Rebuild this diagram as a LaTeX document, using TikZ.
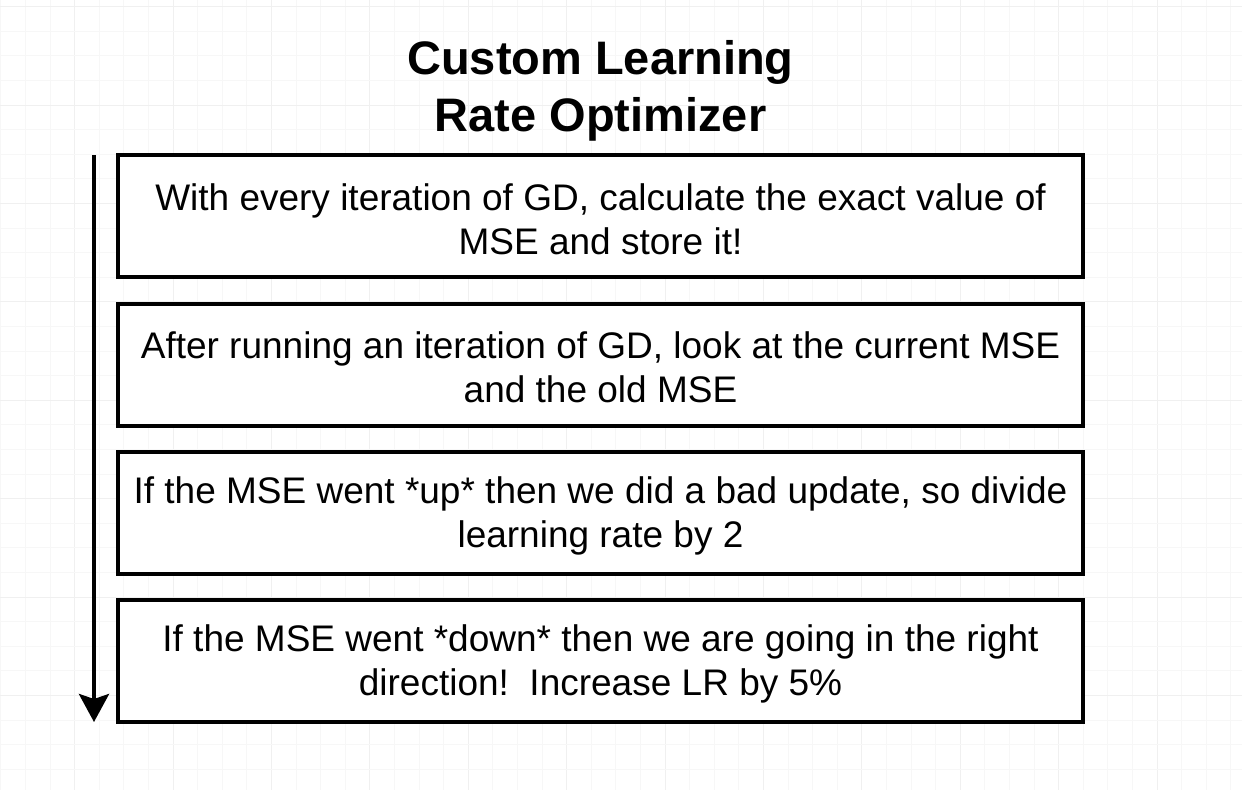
\documentclass[tikz,border=0pt]{standalone}
\usepackage{fontspec}
\setmainfont{Liberation Sans}
\usetikzlibrary{arrows.meta}
\definecolor{gridminor}{gray}{0.97}
\definecolor{gridmajor}{gray}{0.94}
\tikzset{
  stepbox/.style={draw=black, line width=4pt, fill=white, minimum width=965pt, minimum height=122pt,
    inner sep=0pt, align=center, font=\fontsize{37pt}{44pt}\selectfont},
  steptext/.style={align=center, font=\fontsize{37pt}{44pt}\selectfont, inner sep=0pt},
  titletext/.style={align=center, font=\fontsize{47pt}{57pt}\selectfont\bfseries},
  flowarrow/.style={line width=4pt, -{Stealth[length=28pt,width=30pt,inset=5pt]}}
}
\begin{document}
\begin{tikzpicture}[x=1pt,y=-1pt]
\useasboundingbox (0,0) rectangle (1242,790);
\fill[white] (0,0) rectangle (1242,790);
% grid
\foreach \k in {0,...,50}{
  \pgfmathsetmacro{\xx}{0.8+24.6*\k}
  \pgfmathtruncatemacro{\m}{mod(\k,4)}
  \ifnum\m=3
    \draw[gridmajor, line width=1pt] (\xx,0) -- (\xx,790);
  \else
    \draw[gridminor, line width=0.8pt] (\xx,0) -- (\xx,790);
  \fi
}
\foreach \k in {0,...,32}{
  \pgfmathsetmacro{\yy}{6.6+24.6*\k}
  \pgfmathtruncatemacro{\m}{mod(\k,4)}
  \ifnum\m=0
    \draw[gridmajor, line width=1pt] (0,\yy) -- (1242,\yy);
  \else
    \draw[gridminor, line width=0.8pt] (0,\yy) -- (1242,\yy);
  \fi
}
% title
\node[titletext] (title) at (600.5,91) {Custom Learning\\Rate Optimizer};
% boxes
\node[stepbox] (b1) at (600.5,216) {};
\node[stepbox] (b2) at (600.5,364.5) {};
\node[stepbox] (b3) at (600.5,513) {};
\node[stepbox] (b4) at (600.5,660.5) {};
\node[steptext] (t1) at ([yshift=-3pt]b1.center) {With every iteration of GD, calculate the exact value of\\MSE and store it!};
\node[steptext] (t2) at ([yshift=-3pt]b2.center) {After running an iteration of GD, look at the current MSE\\and the old MSE};
\node[steptext] (t3) at ([yshift=-3pt]b3.center) {If the MSE went *up* then we did a bad update, so divide\\learning rate by 2};
\node[steptext] (t4) at ([yshift=-3pt]b4.center) {If the MSE went *down* then we are going in the right\\direction!\ \ Increase LR by 5\%};
% arrow
\coordinate (atop) at (94,155);
\coordinate (abot) at (94,722);
\draw[flowarrow] (atop) -- (abot);
\end{tikzpicture}
\end{document}
